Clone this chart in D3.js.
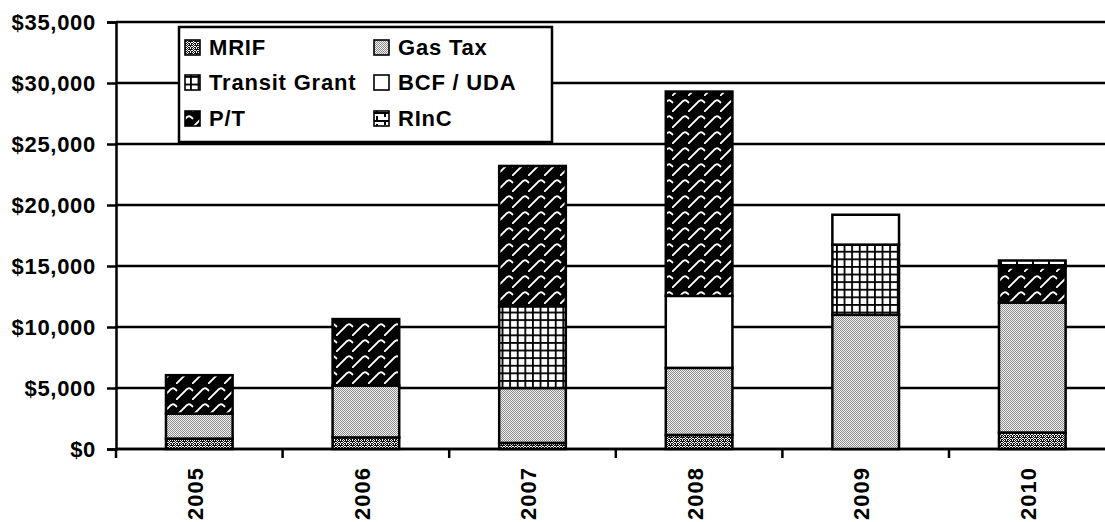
<!DOCTYPE html>
<html>
<head>
<meta charset="utf-8">
<script src="https://cdn.jsdelivr.net/npm/d3@7"></script>
<style>
  html, body { margin: 0; padding: 0; background: #fff; overflow: hidden; }
  svg { display: block; font-family: "Liberation Sans", Arial, sans-serif; font-weight: bold; }
</style>
</head>
<body>
<svg id="chart" width="1105" height="522"></svg>
<script>
// Funding by program and year (dollars, thousands)
const years = ["2005", "2006", "2007", "2008", "2009", "2010"];
const seriesNames = ["MRIF", "Gas Tax", "Transit Grant", "BCF / UDA", "P/T", "RInC"];
const mrif         = [850, 950, 500, 1150, 0, 1350];
const gasTax       = [2050, 4250, 4500, 5500, 11000, 10650];
const transitGrant = [0, 0, 6700, 0, 5750, 0];
const bcfUda       = [0, 0, 0, 5900, 2450, 0];
const pt           = [3150, 5450, 11500, 16750, 0, 2900];
const rinc         = [0, 0, 0, 0, 0, 550];
const yTicks = [0, 5000, 10000, 15000, 20000, 25000, 30000, 35000];

const seriesValues = [mrif, gasTax, transitGrant, bcfUda, pt, rinc];
const patternIds = ["p-mrif", "p-gas", "p-transit", "p-bcf", "p-pt", "p-rinc"];

const svg = d3.select("#chart");
const defs = svg.append("defs");

// --- fill patterns ---
function pattern(id, w, h) {
  return defs.append("pattern").attr("id", id)
    .attr("patternUnits", "userSpaceOnUse").attr("width", w).attr("height", h);
}
// MRIF: dark small checker with white specks
{
  const p = pattern("p-mrif", 6, 4);
  p.append("rect").attr("width", 6).attr("height", 4).attr("fill", "#111");
  [[0,0],[2,0],[4,0],[1,1],[3,2],[5,2],[0,2],[2,2],[1,3],[4,3]].forEach(([x, y]) =>
    p.append("rect").attr("x", x).attr("y", y).attr("width", 1).attr("height", 1).attr("fill", "#fff"));
  p.attr("shape-rendering", "crispEdges");
}
// Gas Tax: light fine checker
{
  const p = pattern("p-gas", 2, 2);
  p.append("rect").attr("width", 2).attr("height", 2).attr("fill", "#f4f4f4");
  p.append("rect").attr("width", 1).attr("height", 1).attr("fill", "#8a8a8a");
  p.append("rect").attr("x", 1).attr("y", 1).attr("width", 1).attr("height", 1).attr("fill", "#8a8a8a");
}
// Transit Grant: square grid
{
  const p = pattern("p-transit", 7.6, 7.6);
  p.append("rect").attr("width", 7.6).attr("height", 7.6).attr("fill", "#fff");
  p.append("rect").attr("width", 7.6).attr("height", 1.8).attr("fill", "#000");
  p.append("rect").attr("width", 1.8).attr("height", 7.6).attr("fill", "#000");
}
// BCF / UDA: plain white
{
  const p = pattern("p-bcf", 4, 4);
  p.append("rect").attr("width", 4).attr("height", 4).attr("fill", "#fff");
}
// P/T: black with white shingle strokes
{
  const p = pattern("p-pt", 16, 16);
  p.append("rect").attr("width", 16).attr("height", 16).attr("fill", "#000");
  p.append("path").attr("d", "M-1,17 L10.5,5.5 Q13,3 15.5,5.5 L17,7 M-0.5,5.5 L1,7")
    .attr("fill", "none").attr("stroke", "#fff").attr("stroke-width", 1.8);
}
// RInC: horizontal brick lines
{
  const p = pattern("p-rinc", 16, 8);
  p.append("rect").attr("width", 16).attr("height", 8).attr("fill", "#fff");
  p.append("rect").attr("width", 16).attr("height", 2).attr("fill", "#000");
  p.append("rect").attr("x", 0).attr("width", 2).attr("height", 5).attr("fill", "#000");
  p.append("rect").attr("x", 8).attr("y", 4).attr("width", 2).attr("height", 4).attr("fill", "#000");
}

// --- scales ---
const x = d3.scaleBand().domain(years).range([116, 1115.6]).padding(0);
const y = d3.scaleLinear().domain([0, 35000]).range([449, 22]);
const barW = x.bandwidth() * 0.4;

// horizontal gridlines
svg.append("g").selectAll("line").data(yTicks).join("line")
  .attr("x1", 116).attr("x2", 1105)
  .attr("y1", d => y(d)).attr("y2", d => y(d))
  .attr("stroke", "#000").attr("stroke-width", 2.5);

// y axis
const yAxis = svg.append("g").attr("transform", "translate(116,0)")
  .call(d3.axisLeft(y).tickValues(yTicks).tickSize(9).tickPadding(11)
    .tickFormat(d => "$" + d3.format(",")(d)));
yAxis.select(".domain").attr("stroke", "#000").attr("stroke-width", 2.5);
yAxis.selectAll(".tick line").attr("stroke", "#000").attr("stroke-width", 2.5);
yAxis.selectAll(".tick text")
  .attr("font-size", 22).attr("font-weight", "bold").attr("fill", "#000")
  .attr("font-family", "'Liberation Sans', Arial, sans-serif")
  .attr("letter-spacing", "0.7px").attr("dy", "0.35em");

// x axis: ticks at category boundaries
const xAxisG = svg.append("g");
xAxisG.append("line").attr("x1", 116).attr("x2", 1105).attr("y1", y(0)).attr("y2", y(0))
  .attr("stroke", "#000").attr("stroke-width", 2.5);
xAxisG.selectAll("line.tick").data(years).join("line").attr("class", "tick")
  .attr("x1", d => x(d)).attr("x2", d => x(d))
  .attr("y1", y(0)).attr("y2", y(0) + 9)
  .attr("stroke", "#000").attr("stroke-width", 2.5);
xAxisG.selectAll("text").data(years).join("text")
  .attr("transform", d => `translate(${x(d) + x.bandwidth() / 2},${y(0) + 18}) rotate(-90)`)
  .attr("text-anchor", "end").attr("dy", "0.17em")
  .attr("font-size", 22).attr("letter-spacing", "1px").attr("fill", "#000")
  .text(d => d);

// stacked bars
const rows = years.map((yr, i) => {
  const r = { year: yr };
  seriesNames.forEach((s, k) => r[s] = seriesValues[k][i]);
  return r;
});
const stacked = d3.stack().keys(seriesNames)(rows);
const barsG = svg.append("g");
stacked.forEach((layer, k) => {
  barsG.append("g").selectAll("rect")
    .data(layer.filter(d => d[1] - d[0] > 0)).join("rect")
    .attr("x", d => x(d.data.year) + (x.bandwidth() - barW) / 2)
    .attr("width", barW)
    .attr("y", d => y(d[1]))
    .attr("height", d => y(d[0]) - y(d[1]))
    .attr("fill", `url(#${patternIds[k]})`)
    .attr("stroke", "#000").attr("stroke-width", 2.5);
});

// legend
const legend = svg.append("g");
legend.append("rect").attr("x", 179).attr("y", 27).attr("width", 373).attr("height", 115)
  .attr("fill", "#fff").attr("stroke", "#000").attr("stroke-width", 2.5);
const colX = [185, 374];
const rowY = [55, 90, 126];
seriesNames.forEach((s, k) => {
  const cx = colX[k % 2], by = rowY[Math.floor(k / 2)];
  legend.append("rect").attr("x", cx).attr("y", by - 15).attr("width", 15).attr("height", 15)
    .attr("fill", `url(#${patternIds[k]})`).attr("stroke", "#000").attr("stroke-width", 1.6);
  legend.append("text").attr("x", cx + 24).attr("y", by)
    .attr("font-size", 22).attr("letter-spacing", "0.8px").attr("fill", "#000").text(s);
});
</script>
</body>
</html>
